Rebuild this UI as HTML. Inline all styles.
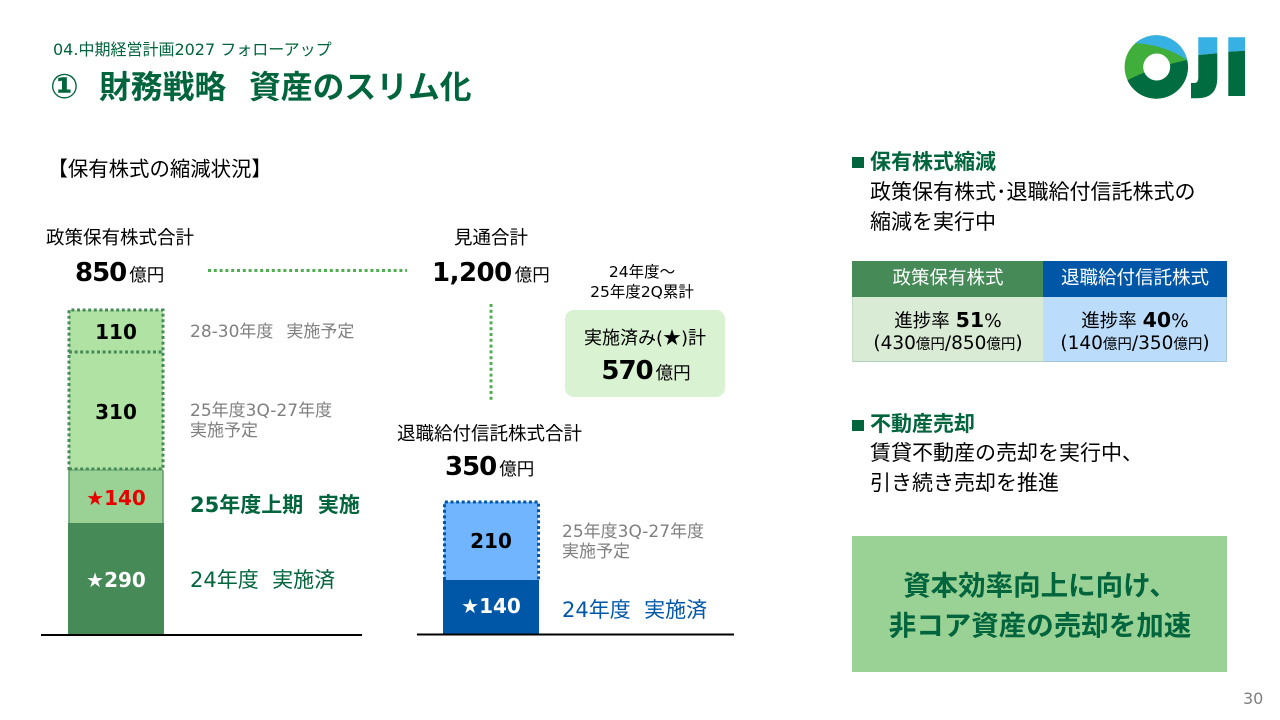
<!DOCTYPE html>
<html lang="ja"><head><meta charset="utf-8">
<style>
html,body{margin:0;padding:0;background:#fff}
#p{position:relative;width:1280px;height:720px;overflow:hidden;background:#fff;font-family:"DejaVu Sans","Noto Sans CJK JP",sans-serif;color:#000}
.t{position:absolute;white-space:nowrap;line-height:1;font-family:"DejaVu Sans","Noto Sans CJK JP",sans-serif}
.c{transform:translateX(-50%);text-align:center}
.n{font-weight:700}
.b{position:absolute;box-sizing:border-box}
.s{font-size:17.500px;font-weight:400;letter-spacing:0;margin-left:3px}
.st{font-family:"Noto Sans CJK JP",sans-serif}
.y{font-size:14.500px}
</style></head><body><div id="p">

<div class="t" style="left:53px;top:42px;font-size:16px;color:#00643c">04.中期経営計画2027 フォローアップ</div>
<div class="t" style="left:50px;top:70px;font-size:34px;font-weight:700;color:#00643c">①</div>
<div class="t" style="left:99px;top:72px;font-size:31.800px;font-weight:700;color:#00643c">財務戦略</div>
<div class="t" style="left:249px;top:72px;font-size:31.800px;font-weight:700;color:#00643c">資産のスリム化</div>

<svg style="position:absolute;left:1100px;top:20px" width="170" height="100" viewBox="0 0 170 100">
<defs><clipPath id="ring"><circle cx="56.300" cy="47" r="31.700"/></clipPath></defs>
<g clip-path="url(#ring)">
<rect x="20" y="10" width="80" height="70" fill="#3fae3a"/>
<path d="M35 23Q65 25 87 40L100 0H20Z" fill="#37b1e4"/>
<path d="M26 61Q50 48 87 40L100 90H20Z" fill="#006c3f"/>
</g>
<circle cx="56.700" cy="47" r="13.500" fill="#fff"/>
<path d="M98.300 17.300H117.300V33.300L98.300 35Z" fill="#37b1e4"/>
<path d="M98.300 35L117.300 33.300V58Q117.300 78.300 97 78.300H91V63H94Q98.300 63 98.300 58Z" fill="#006c3f"/>
<path d="M128.300 17.300H145V30.700L128.300 31.700Z" fill="#37b1e4"/>
<path d="M128.300 31.700L145 30.700V76H128.300Z" fill="#006c3f"/>
</svg>

<div class="t" style="left:47.500px;top:159px;font-size:20.400px">【保有株式の縮減状況】</div>

<div class="t" style="left:46px;top:230px;font-size:18.500px">政策保有株式合計</div>
<div class="t n" style="left:75px;top:260px;font-size:26px;letter-spacing:-1px">850<span class="s">億円</span></div>
<div class="t" style="left:454px;top:230px;font-size:18.500px">見通合計</div>
<div class="t n" style="left:432px;top:260px;font-size:26px;letter-spacing:-.5px">1,200<span class="s">億円</span></div>
<div class="t c" style="left:642px;top:262px;font-size:15.500px;line-height:20px">24年度～<br>25年度2Q累計</div>

<svg style="position:absolute;left:0;top:0" width="1280" height="720">
<line x1="208" y1="270.500" x2="407" y2="270.500" stroke="#4fae50" stroke-width="3" stroke-dasharray="3 2.800"/>
<line x1="491" y1="304" x2="491" y2="401" stroke="#4fae50" stroke-width="3" stroke-dasharray="3 2.800"/>
<rect x="69" y="310" width="94" height="160" fill="#b0e3a3"/>
<rect x="69" y="470" width="94" height="53" fill="#9ad296"/>
<rect x="68" y="523" width="96" height="111" fill="#468a58"/>
<path d="M69 470V523M163 470V523" stroke="#5f9e6e" stroke-width="1.500"/>
<path d="M69 470H163" stroke="#5f9e6e" stroke-width="1"/>
<path d="M69 470V310H163V470M69 352H163M69 469H163" fill="none" stroke="#468a58" stroke-width="3" stroke-dasharray="3 2.600"/>
<rect x="444" y="502" width="94" height="78" fill="#71b5ff"/>
<rect x="443" y="580" width="96" height="54" fill="#0057a8"/>
<path d="M444.500 580V502H538.500V580" fill="none" stroke="#0057a8" stroke-width="3" stroke-dasharray="3 2.600"/>
<path d="M41 635H362M417 634.500H734" stroke="#000" stroke-width="2"/>
</svg>

<div class="t n c" style="left:116px;top:322px;font-size:20px">110</div>
<div class="t n c" style="left:116px;top:402px;font-size:20px">310</div>
<div class="t n c" style="left:116px;top:488px;font-size:20px;color:#e60000">★140</div>
<div class="t n c" style="left:116px;top:570px;font-size:20px;color:#fff">★290</div>
<div class="t n c" style="left:491px;top:531px;font-size:20px">210</div>
<div class="t n c" style="left:491px;top:596px;font-size:20px;color:#fff">★140</div>

<div class="t" style="left:190px;top:324px;font-size:17px;color:#7f7f7f">28-30年度<span style="margin-left:13px">実施予定</span></div>
<div class="t" style="left:190px;top:401px;font-size:17px;line-height:20px;color:#7f7f7f">25年度3Q-27年度<br>実施予定</div>
<div class="t" style="left:190px;top:495px;font-size:21px;font-weight:700;color:#00643c">25年度上期&nbsp;&nbsp;実施</div>
<div class="t" style="left:190px;top:570px;font-size:21px;color:#00643c">24年度&nbsp;&nbsp;実施済</div>

<div class="t" style="left:397px;top:426px;font-size:18.500px">退職給付信託株式合計</div>
<div class="t n" style="left:445px;top:454px;font-size:26px;letter-spacing:-1px">350<span class="s">億円</span></div>
<div class="t" style="left:562px;top:522px;font-size:17px;line-height:20px;color:#7f7f7f">25年度3Q-27年度<br>実施予定</div>
<div class="t" style="left:562px;top:600px;font-size:21px;color:#0057a8">24年度&nbsp;&nbsp;実施済</div>

<div class="b" style="left:565px;top:310px;width:160px;height:87px;background:#d9f2d2;border-radius:9px"></div>
<div class="t c" style="left:645px;top:328px;font-size:18px">実施済み(<span class="st">★</span>)計</div>
<div class="t n c" style="left:646px;top:358px;font-size:26px;letter-spacing:-1px">570<span class="s">億円</span></div>

<div class="b" style="left:852px;top:157px;width:12px;height:11px;background:#00643c"></div>
<div class="t" style="left:870px;top:152px;font-size:21px;font-weight:700;color:#00643c">保有株式縮減</div>
<div class="t" style="left:870px;top:177px;font-size:21px;line-height:30px">政策保有株式･退職給付信託株式の<br>縮減を実行中</div>

<div class="b" style="left:852px;top:261px;width:191px;height:36px;background:#468a58"></div>
<div class="b" style="left:1043px;top:261px;width:184px;height:36px;background:#0057a8"></div>
<div class="b" style="left:852px;top:297px;width:191px;height:65px;background:#d9ebd5;border-bottom:1px solid #b5d0c0;border-left:1px solid #c5dcc5"></div>
<div class="b" style="left:1043px;top:297px;width:184px;height:65px;background:#bbdcfb;border-bottom:1px solid #a5c8dc;border-right:1px solid #a5c8dc"></div>
<div class="t c" style="left:948px;top:270px;font-size:18.500px;color:#fff">政策保有株式</div>
<div class="t c" style="left:1135px;top:270px;font-size:18.500px;color:#fff">退職給付信託株式</div>
<div class="t c" style="left:948px;top:310px;font-size:18.500px">進捗率 <span class="n" style="font-size:20.500px">51</span>%</div>
<div class="t c" style="left:1135px;top:310px;font-size:18.500px">進捗率 <span class="n" style="font-size:20.500px">40</span>%</div>
<div class="t c" style="left:948px;top:335px;font-size:18.500px">(430<span class="y">億円</span>/850<span class="y">億円</span>)</div>
<div class="t c" style="left:1135px;top:335px;font-size:18.500px">(140<span class="y">億円</span>/350<span class="y">億円</span>)</div>

<div class="b" style="left:852px;top:420px;width:12px;height:11px;background:#00643c"></div>
<div class="t" style="left:870px;top:414px;font-size:21px;font-weight:700;color:#00643c">不動産売却</div>
<div class="t" style="left:870px;top:438px;font-size:21px;line-height:30px">賃貸不動産の売却を実行中、<br>引き続き売却を推進</div>

<div class="b" style="left:852px;top:536px;width:375px;height:136px;background:#9ad296"></div>
<div class="t c" style="left:1040px;top:566px;font-size:27.500px;font-weight:700;line-height:40px;color:#00643c">資本効率向上に向け、<br>非コア資産の売却を加速</div>

<div class="t" style="left:1243px;top:691px;font-size:16px;color:#7f7f7f">30</div>
</div></body></html>
